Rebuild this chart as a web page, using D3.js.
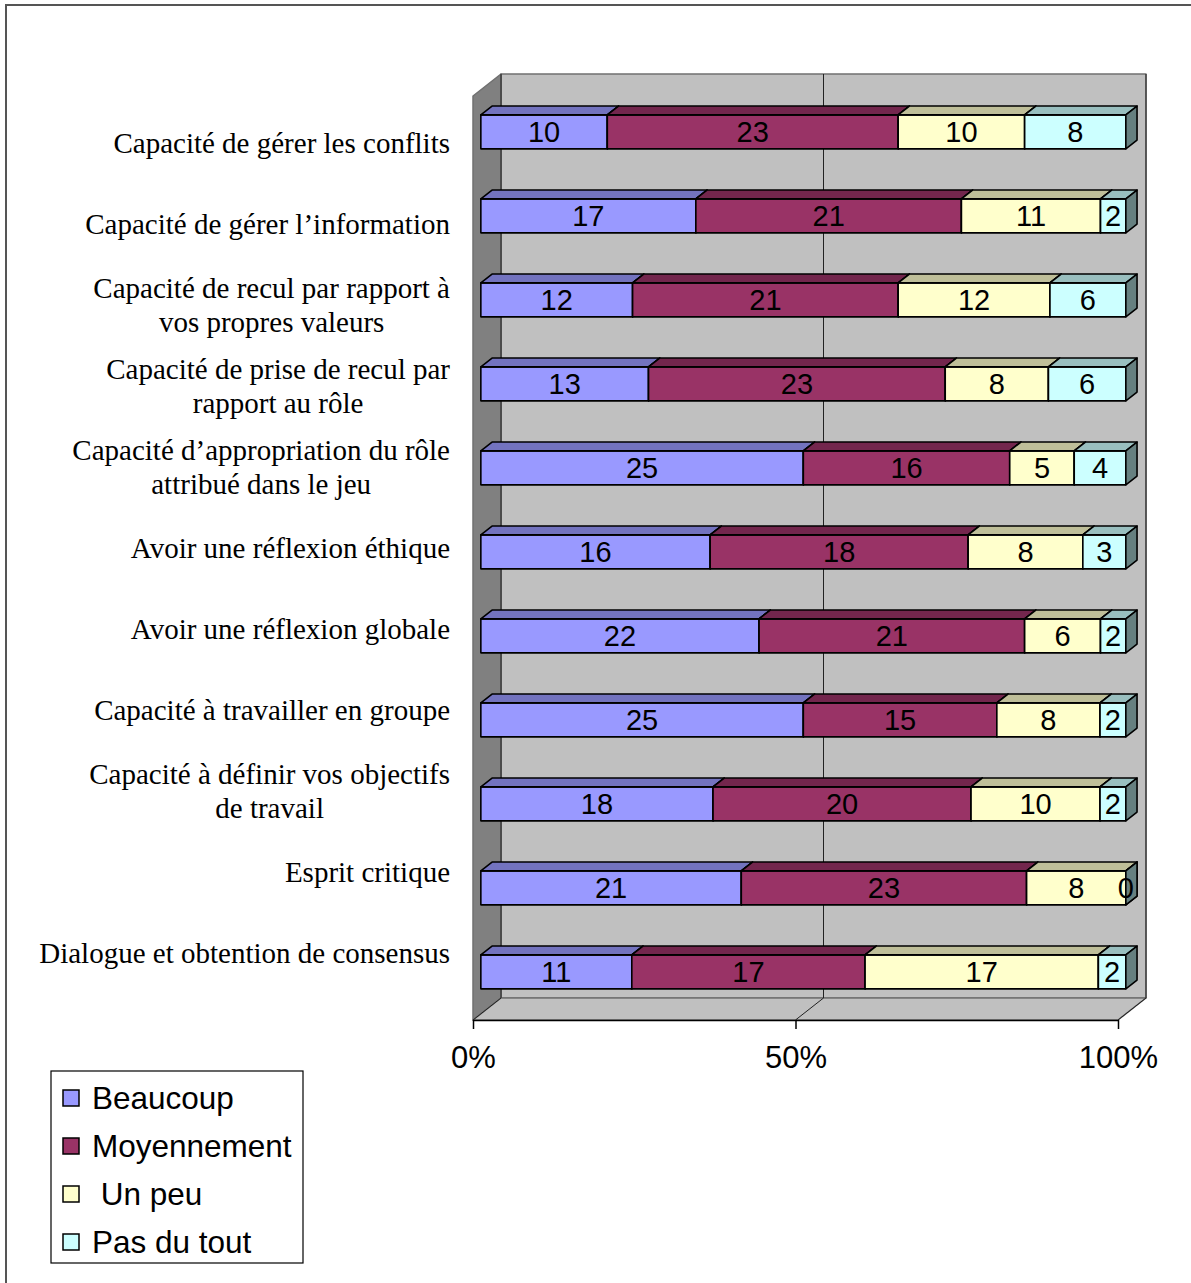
<!DOCTYPE html>
<html>
<head>
<meta charset="utf-8">
<script src="https://cdn.jsdelivr.net/npm/d3@7"></script>
<style>
  body { margin: 0; background: #fff; }
</style>
</head>
<body>
<div id="chart"></div>
<script>
// categories, top to bottom
const categories = [
  "Capacité de gérer les conflits",
  "Capacité de gérer l’information",
  "Capacité de recul par rapport à\nvos propres valeurs",
  "Capacité de prise de recul par\nrapport au rôle",
  "Capacité d’appropriation du rôle\nattribué dans le jeu",
  "Avoir une réflexion éthique",
  "Avoir une réflexion globale",
  "Capacité à travailler en groupe",
  "Capacité à définir vos objectifs\nde travail",
  "Esprit critique",
  "Dialogue et obtention de consensus"
];
const beaucoup    = [10, 17, 12, 13, 25, 16, 22, 25, 18, 21, 11];
const moyennement = [23, 21, 21, 23, 16, 18, 21, 15, 20, 23, 17];
const unPeu       = [10, 11, 12,  8,  5,  8,  6,  8, 10,  8, 17];
const pasDuTout   = [ 8,  2,  6,  6,  4,  3,  2,  2,  2,  0,  2];
const seriesNames = ["Beaucoup", "Moyennement", " Un peu", "Pas du tout"];
const seriesColors = ["#9999ff", "#993366", "#ffffcc", "#ccffff"];
const xTicks = [0, 0.5, 1];

var width = 1191;
var height = 1283;
var plot = { left: 473, right: 1118, top: 96, bottom: 1020 };
var depth = { dx: 28, dy: -22 };   // 3d depth of the walls
var barFront = 0.28, barDepth = 0.4; // bar position inside the depth

var svg = d3.select("#chart").append("svg")
  .attr("width", width)
  .attr("height", height);

// outer frame (runs off the right / bottom edges)
svg.append("rect")
  .attr("x", 6).attr("y", 5)
  .attr("width", width).attr("height", height)
  .attr("fill", "none")
  .attr("stroke", "#555")
  .attr("stroke-width", 2);

var x = d3.scaleLinear().domain([0, 1]).range([plot.left, plot.right]);
var y = d3.scaleBand()
  .domain(d3.range(categories.length))
  .range([plot.top, plot.bottom])
  .paddingInner(0.595)
  .paddingOuter(0.2975);

// walls and floor
var L = plot.left, R = plot.right, T = plot.top, B = plot.bottom, dx = depth.dx, dy = depth.dy;
var walls = svg.append("g").attr("stroke", "#707070").attr("stroke-width", 1.5).attr("stroke-linejoin", "round");
walls.append("polygon")
  .attr("points", [[L + dx, T + dy], [R + dx, T + dy], [R + dx, B + dy], [L + dx, B + dy]].join(" "))
  .attr("fill", "#c0c0c0");
walls.append("polygon")
  .attr("points", [[L, T], [L + dx, T + dy], [L + dx, B + dy], [L, B]].join(" "))
  .attr("fill", "#808080");
walls.append("polygon")
  .attr("points", [[L, B], [L + dx, B + dy], [R + dx, B + dy], [R, B]].join(" "))
  .attr("fill", "#c0c0c0");

// gridlines on back wall and floor
var grid = svg.append("g").attr("stroke", "#222").attr("stroke-width", 1);
grid.selectAll(".gw").data(xTicks).join("line")
  .attr("x1", d => x(d) + dx).attr("x2", d => x(d) + dx)
  .attr("y1", T + dy).attr("y2", B + dy);
grid.selectAll(".gf").data(xTicks).join("line")
  .attr("x1", d => x(d)).attr("x2", d => x(d) + dx)
  .attr("y1", B).attr("y2", B + dy);

// stacked 100% bars
var rows = categories.map((c, i) => [beaucoup[i], moyennement[i], unPeu[i], pasDuTout[i]]);
var stacked = d3.stack()
  .keys([0, 1, 2, 3])
  .value((d, k) => d[k])
  .offset(d3.stackOffsetExpand)(rows);

var ox = barFront * dx, oy = barFront * dy;
var bdx = barDepth * dx, bdy = barDepth * dy;

function shade(c, k) {
  var col = d3.rgb(c);
  return d3.rgb(col.r * k, col.g * k, col.b * k);
}

var bars = svg.append("g")
  .attr("stroke", "#000")
  .attr("stroke-width", 1.6)
  .attr("stroke-linejoin", "round");

categories.forEach(function (c, i) {
  var yt = y(i) + oy, yb = yt + y.bandwidth();
  stacked.forEach(function (s, k) {
    var d = s[i];
    var x0 = x(d[0]) + ox, x1 = x(d[1]) + ox;
    var g = bars.append("g");
    g.append("rect")
      .attr("x", x0).attr("y", yt)
      .attr("width", x1 - x0).attr("height", yb - yt)
      .attr("fill", seriesColors[k]);
    g.append("polygon")
      .attr("points", [[x0, yt], [x0 + bdx, yt + bdy], [x1 + bdx, yt + bdy], [x1, yt]].join(" "))
      .attr("fill", shade(seriesColors[k], 0.75));
    g.append("polygon")
      .attr("points", [[x1, yt], [x1 + bdx, yt + bdy], [x1 + bdx, yb + bdy], [x1, yb]].join(" "))
      .attr("fill", shade(seriesColors[k], 0.5));
  });
});

// value labels
var labels = svg.append("g")
  .attr("font-family", "Arial, 'Liberation Sans', sans-serif")
  .attr("font-size", 29)
  .attr("text-anchor", "middle")
  .attr("fill", "#000");
categories.forEach(function (c, i) {
  var yc = y(i) + oy + y.bandwidth() / 2;
  stacked.forEach(function (s, k) {
    var d = s[i];
    labels.append("text")
      .attr("x", (x(d[0]) + x(d[1])) / 2 + ox)
      .attr("y", yc)
      .attr("dy", "0.36em")
      .text(rows[i][k]);
  });
});

// x axis
var xAxis = d3.axisBottom(x)
  .tickValues(xTicks)
  .tickFormat(d3.format(".0%"))
  .tickSize(9)
  .tickSizeOuter(0)
  .tickPadding(17);
var ax = svg.append("g")
  .attr("transform", `translate(0,${B})`)
  .call(xAxis);
ax.select(".domain").attr("stroke", "#000").attr("stroke-width", 1.5);
ax.selectAll(".tick line").attr("stroke", "#000").attr("stroke-width", 1.5);
ax.selectAll("text")
  .attr("font-family", "Arial, 'Liberation Sans', sans-serif")
  .attr("font-size", 31)
  .attr("fill", "#000");

// category labels
var labelY = d3.scalePoint().domain(d3.range(categories.length)).range([143, 953]);
var labelRight = 450, lineH = 34;
var cats = svg.append("g")
  .attr("font-family", "'Times New Roman', 'Liberation Serif', serif")
  .attr("font-size", 29)
  .attr("fill", "#000")
  .attr("text-anchor", "middle");
categories.forEach(function (c, i) {
  var lines = c.split("\n");
  var t = cats.append("text").attr("y", labelY(i));
  lines.forEach(function (ln, j) {
    t.append("tspan")
      .attr("dy", j === 0 ? (-(lines.length - 1) / 2 * lineH + 10) : lineH)
      .text(ln);
  });
  var w = d3.max(t.selectAll("tspan").nodes(), n => n.getComputedTextLength());
  t.selectAll("tspan").attr("x", labelRight - w / 2);
});

// legend
var legend = svg.append("g");
legend.append("rect")
  .attr("x", 51).attr("y", 1071)
  .attr("width", 252).attr("height", 192)
  .attr("fill", "#fff")
  .attr("stroke", "#000")
  .attr("stroke-width", 1.2);
var item = legend.selectAll(".item")
  .data(seriesNames)
  .join("g")
  .attr("transform", (d, i) => `translate(63,${1098 + i * 48})`);
item.append("rect")
  .attr("x", 0).attr("y", -8)
  .attr("width", 16).attr("height", 16)
  .attr("fill", (d, i) => seriesColors[i])
  .attr("stroke", "#000")
  .attr("stroke-width", 1.5);
item.append("text")
  .attr("x", 29).attr("y", 0)
  .attr("dy", "0.36em")
  .attr("font-family", "Arial, 'Liberation Sans', sans-serif")
  .attr("font-size", 31.5)
  .attr("fill", "#000")
  .style("white-space", "pre")
  .text(d => d);
</script>
</body>
</html>
